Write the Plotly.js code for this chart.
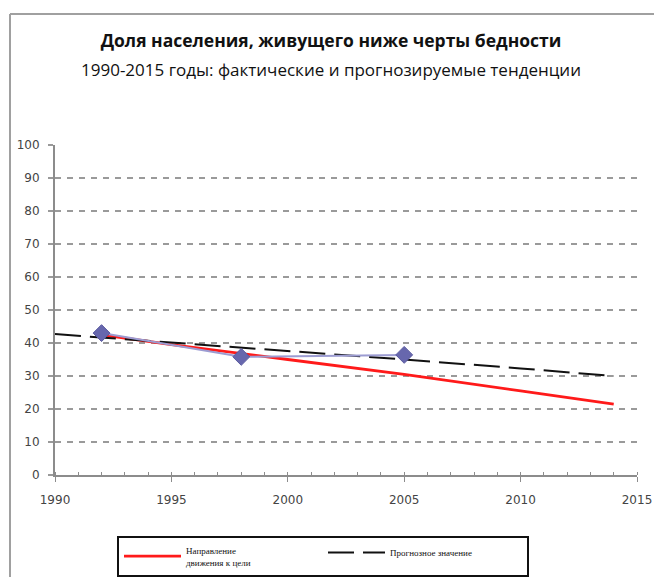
<!DOCTYPE html>
<html>
<head>
<meta charset="utf-8">
<script src="https://cdn.plot.ly/plotly-3.0.1.min.js"></script>
<style>
html,body{margin:0;padding:0;background:#fff;}
#chart{width:654px;height:577px;}
</style>
</head>
<body>
<div id="chart"></div>
<script>
// Actual observed values
const actualYears = [1992, 1998, 2005];
const actualValues = [43.0, 35.8, 36.4];

// Target direction (red)
const targetYears = [1992, 1995, 2000, 2005, 2010, 2014];
const targetValues = [42.5, 39.5, 35.0, 30.5, 25.5, 21.5];

// Forecast (black dashed)
const forecastYears = [1990, 1995, 2000, 2005, 2010, 2014];
const forecastValues = [42.7, 40.2, 37.5, 35.0, 32.3, 30.0];

const xTicks = [1990, 1995, 2000, 2005, 2010, 2015];
const yTicks = [0, 10, 20, 30, 40, 50, 60, 70, 80, 90, 100];

const titleText = 'Доля населения, живущего ниже черты бедности';
const subtitleText = '1990-2015 годы: фактические и прогнозируемые тенденции';
const targetName = 'Направление<br>движения к цели';
const forecastName = 'Прогнозное значение';

const W = 654, H = 577;
const L = 55, R = 17, T = 145, B = 102;
const pw = W - L - R, ph = H - T - B;
const px = v => (v - L) / pw;
const py = v => (H - B - v) / ph;

const traces = [
  {
    x: targetYears, y: targetValues, type: 'scatter', mode: 'lines',
    name: targetName,
    line: {color: '#ff1a1a', width: 2.8},
    showlegend: true
  },
  {
    x: forecastYears, y: forecastValues, type: 'scatter', mode: 'lines',
    name: forecastName,
    line: {color: '#111111', width: 2, dash: '26px,9px'},
    showlegend: true
  },
  {
    x: actualYears, y: actualValues, type: 'scatter', mode: 'lines+markers',
    name: 'Фактические данные',
    line: {color: '#9c9cd2', width: 2},
    marker: {symbol: 'diamond', size: 13, color: '#6767ad', line: {color: '#5a5aa0', width: 1}},
    showlegend: false
  }
];

const layout = {
  width: W, height: H,
  margin: {l: L, r: R, t: T, b: B, autoexpand: false},
  paper_bgcolor: '#ffffff', plot_bgcolor: '#ffffff',
  title: {
    text: '<b>' + titleText + '</b>',
    font: {family: 'Open Sans, sans-serif', size: 17.5, color: '#111'},
    xref: 'paper', x: px(331), xanchor: 'center',
    yref: 'container', y: 1 - 41 / H, yanchor: 'middle'
  },
  annotations: [{
    text: subtitleText, showarrow: false,
    xref: 'paper', yref: 'paper', x: px(331), y: py(69),
    xanchor: 'center', yanchor: 'middle',
    font: {family: 'Open Sans, sans-serif', size: 17, color: '#111'}
  }],
  xaxis: {
    range: [1990, 2015], tickvals: xTicks, ticktext: xTicks.map(String),
    showgrid: false, zeroline: false,
    showline: true, linecolor: '#8c8c8c', linewidth: 2,
    ticks: 'outside', ticklen: 5, tickcolor: '#8c8c8c', tickwidth: 1,
    minor: {dtick: 1, ticks: 'inside', ticklen: 3, tickcolor: '#8c8c8c', showgrid: false},
    ticklabelstandoff: 8,
    tickfont: {family: 'DejaVu Sans, sans-serif', size: 12, color: '#444'}
  },
  yaxis: {
    range: [0, 100], tickvals: yTicks,
    showgrid: true, gridcolor: '#9a9a9a', griddash: '6px,6px', gridwidth: 2,
    zeroline: false,
    showline: true, linecolor: '#8c8c8c', linewidth: 2,
    ticks: 'outside', ticklen: 5, tickcolor: '#9a9a9a', tickwidth: 2,
    ticklabelstandoff: 6,
    tickfont: {family: 'DejaVu Sans, sans-serif', size: 12, color: '#444'}
  },
  legend: {
    orientation: 'h',
    x: px(117), y: py(536), xanchor: 'left', yanchor: 'top',
    bgcolor: '#ffffff', bordercolor: '#111', borderwidth: 2,
    font: {family: 'Liberation Serif, serif', size: 9, color: '#111'},
    itemwidth: 57, entrywidth: 132,
    tracegroupgap: 0
  },
  shapes: [
    {type: 'line', xref: 'paper', yref: 'paper', x0: px(10), x1: px(10), y0: py(14), y1: py(600),
     line: {color: '#a0a0a0', width: 2}},
    {type: 'line', xref: 'paper', yref: 'paper', x0: px(10), x1: px(670), y0: py(14), y1: py(14),
     line: {color: '#a0a0a0', width: 2}}
  ],
  showlegend: true
};

Plotly.newPlot('chart', traces, layout, {displayModeBar: false, staticPlot: true});
</script>
</body>
</html>
